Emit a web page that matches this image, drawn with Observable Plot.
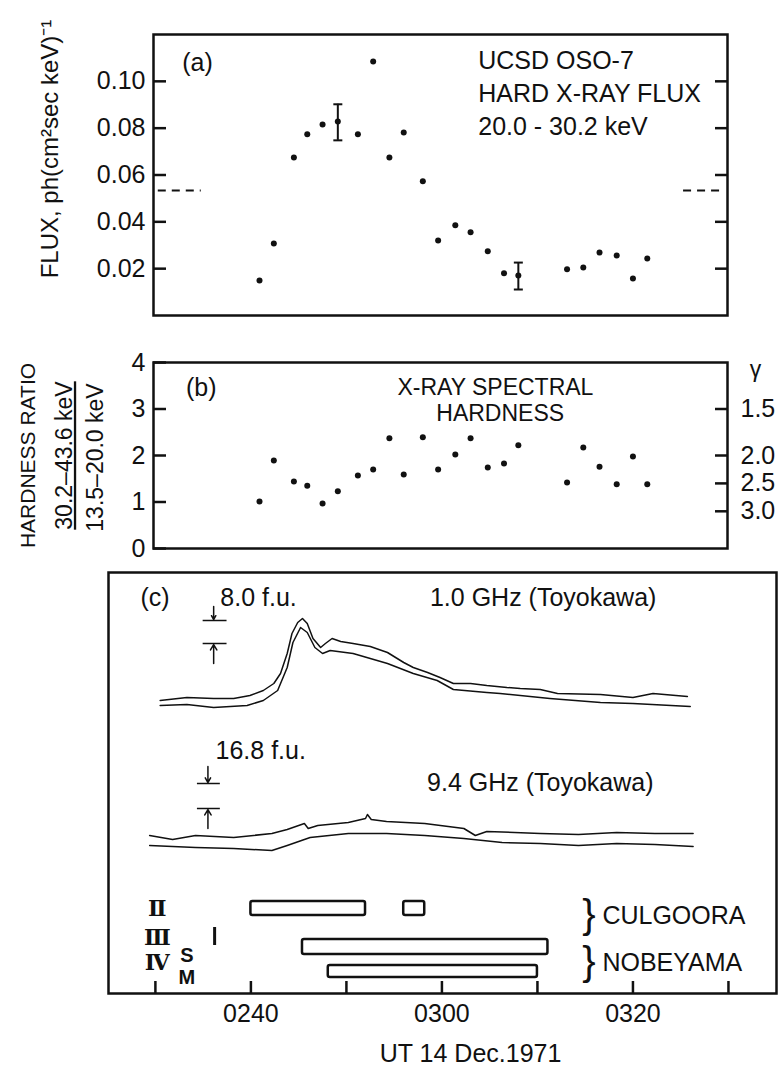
<!DOCTYPE html>
<html>
<head>
<meta charset="utf-8">
<script src="https://cdn.jsdelivr.net/npm/d3@7"></script>
<script src="https://cdn.jsdelivr.net/npm/@observablehq/plot@0.6"></script>
<style>
  html, body { margin: 0; padding: 0; background: #fff; }
  #fig { position: relative; width: 778px; height: 1068px; overflow: hidden; }
</style>
</head>
<body>
<div id="fig"></div>
<script>
// ---------- DATA (time in minutes after 00:00 UT, 14 Dec 1971) ----------
const times    = [160.9, 162.4, 164.5, 165.9, 167.5, 169.1, 171.2, 172.8, 174.5, 176.0, 178.0, 179.6, 181.4, 183.0, 184.8, 186.5, 188.0, 193.1, 194.8, 196.5, 198.3, 200.0, 201.5];
const flux     = [0.0150, 0.0308, 0.0675, 0.0774, 0.0816, 0.0829, 0.0774, 0.1085, 0.0675, 0.0782, 0.0573, 0.0320, 0.0385, 0.0355, 0.0274, 0.0180, 0.0171, 0.0197, 0.0205, 0.0269, 0.0256, 0.0158, 0.0243];
const hardness = [1.01, 1.89, 1.44, 1.35, 0.97, 1.23, 1.57, 1.70, 2.37, 1.59, 2.39, 1.70, 2.02, 2.37, 1.74, 1.83, 2.22, 1.42, 2.17, 1.76, 1.38, 1.98, 1.38];

const errTimes = [169.1, 188.0];
const errLow   = [0.0748, 0.0111];
const errHigh  = [0.0902, 0.0226];

const bgLevel  = 0.0534;
const bgStarts = [150.3, 205.3];
const bgEnds   = [154.8, 209.2];

const fluxTicks   = [0.02, 0.04, 0.06, 0.08, 0.10];
const hardTicks   = [0, 1, 2, 3, 4];
const gammaLabels = ["1.5", "2.0", "2.5", "3.0"];
const gammaPos    = [3.0, 2.0, 1.4, 0.8];

// radio traces (c): level in chart units
const g1UpT = [150.5,153.3,156.1,158.2,159.9,161.3,162.4,163.1,163.8,164.3,164.9,165.4,165.9,166.5,167.3,167.8,168.5,169.4,170.7,172.5,174.3,176.0,177.0,178.5,179.8,181.2,183.0,184.7,186.8,188.2,190.3,192.1,196.6,200.0,202.1,205.7];
const g1UpV = [29.3,29.6,29.5,29.5,29.8,30.3,31.0,32.0,34.0,36.0,37.1,37.5,37.0,35.5,34.6,35.0,35.5,35.2,35.0,34.7,34.1,33.1,32.6,32.1,31.6,31.0,31.0,30.8,30.6,30.5,30.4,30.0,29.9,29.6,30.0,29.7];
const g1LoT = [150.5,153.3,156.1,159.6,161.3,162.8,163.8,164.4,165.2,165.9,166.7,167.5,168.3,170.7,172.5,174.3,177.0,179.5,181.2,184.7,186.1,191.3,196.6,200.0,206.0];
const g1LoV = [28.8,28.9,28.6,28.8,29.3,30.3,32.6,35.1,36.6,36.1,34.6,34.0,34.3,34.0,33.5,33.0,32.0,31.3,30.4,30.1,30.0,29.5,29.1,29.0,28.7];
const g9UpT = [149.4,151.8,154.2,158.2,162.2,163.8,165.6,166.0,167.0,170.2,172.0,172.2,172.6,174.2,178.2,182.3,183.5,184.7,190.3,194.3,198.3,202.3,206.3];
const g9UpV = [15.8,15.4,15.8,15.6,16.0,16.4,17.0,16.5,16.8,17.1,17.5,17.9,17.4,17.2,17.0,16.5,15.8,16.2,16.0,15.9,16.1,16.0,16.0];
const g9LoT = [149.4,154.2,158.2,162.2,163.8,166.2,170.2,174.2,178.2,182.3,186.3,190.3,194.3,198.3,202.3,206.3];
const g9LoV = [14.8,14.6,14.5,14.3,14.8,15.6,16.0,16.0,15.8,15.5,15.1,15.0,14.8,15.0,14.9,14.7];

// burst-type bars
const barStart  = [160.0, 176.0, 165.4, 168.1];
const barEnd    = [172.0, 178.2, 191.1, 190.0];
const barTop    = [9.2, 9.2, 5.4, 2.8];
const barBottom = [7.8, 7.8, 3.9, 1.6];
const typeIIIAt = 156.2;

const romanLabels = ["Ⅱ", "Ⅲ", "Ⅳ"];
const romanLevels = [8.5, 5.6, 3.1];
const stations    = ["CULGOORA", "NOBEYAMA"];
const stationLev  = [7.8, 3.1];

const axisTicks   = [150, 160, 170, 180, 190, 200, 210];
const labelTicks  = [160, 180, 200];
const tickLabels  = ["0240", "0300", "0320"];

const abDomain = [149.8, 209.9];
const cDomain  = [145.09, 215.03];

// ---------- helpers ----------
const FONT = "'Liberation Sans', Arial, Helvetica, sans-serif";
const INK = "#111";
const style = {fontFamily: FONT, fontSize: "25px", color: INK, background: "transparent", overflow: "visible"};
const fig = document.getElementById("fig");
function place(svg, top) {
  svg.style.position = "absolute";
  svg.style.left = "0px";
  svg.style.top = top + "px";
  fig.appendChild(svg);
}
const capSymbol = {draw(ctx) { ctx.moveTo(-4.5, 0); ctx.lineTo(4.5, 0); }};

const ptsA = times.map((t, i) => ({t, v: flux[i]}));
const ptsB = times.map((t, i) => ({t, v: hardness[i]}));
const errs = errTimes.map((t, i) => ({t, lo: errLow[i], hi: errHigh[i]}));
const caps = errs.flatMap(d => [{t: d.t, v: d.lo}, {t: d.t, v: d.hi}]);
const bg = bgStarts.map((s, i) => ({t1: s, t2: bgEnds[i], v: bgLevel}));

// ---------- panel (a) ----------
const plotA = Plot.plot({
  width: 778, height: 330,
  marginTop: 34, marginBottom: 15, marginLeft: 153, marginRight: 51,
  x: {domain: abDomain, axis: null},
  y: {domain: [0, 0.12], axis: null},
  style,
  marks: [
    Plot.frame({stroke: INK, strokeWidth: 2.5}),
    Plot.axisY(fluxTicks, {anchor: "left", tickSize: -13, tickPadding: 21, strokeWidth: 2.5, tickFormat: d3.format(".2f"), label: null, fontSize: 25}),
    Plot.axisY(fluxTicks, {anchor: "right", tickSize: -13, strokeWidth: 2.5, tickFormat: () => "", label: null}),
    Plot.ruleY(bg, {x1: "t1", x2: "t2", y: "v", stroke: INK, strokeWidth: 2, strokeDasharray: "8,6"}),
    Plot.ruleX(errs, {x: "t", y1: "lo", y2: "hi", stroke: INK, strokeWidth: 2}),
    Plot.dot(caps, {x: "t", y: "v", symbol: capSymbol, stroke: INK, strokeWidth: 2, fill: "none"}),
    Plot.dot(ptsA, {x: "t", y: "v", r: 3, fill: INK, stroke: "none"}),
    Plot.text(["(a)"], {x: 154.4, y: 0.108, fontSize: 25}),
    Plot.text(["UCSD OSO-7", "HARD X-RAY FLUX", "20.0 - 30.2 keV"], {x: 183.8, y: [0.1085, 0.0944, 0.0807], textAnchor: "start", fontSize: 25}),
    Plot.text(["FLUX, ph(cm²sec keV)⁻¹"], {frameAnchor: "left", textAnchor: "middle", lineAnchor: "middle", rotate: -90, dx: -103, dy: -26, fontSize: 24})
  ]
});
place(plotA, 0);

// ---------- panel (b) ----------
const numLabel = "30.2–43.6 keV";
const plotB = Plot.plot({
  width: 778, height: 230,
  marginTop: 32, marginBottom: 12, marginLeft: 153, marginRight: 51,
  x: {domain: abDomain, axis: null},
  y: {domain: [0, 4], axis: null},
  style,
  marks: [
    Plot.frame({stroke: INK, strokeWidth: 2.5}),
    Plot.axisY(hardTicks, {anchor: "left", tickSize: -13, tickPadding: 21, strokeWidth: 2.5, tickFormat: d3.format("d"), label: null, fontSize: 25}),
    Plot.axisY(gammaPos, {anchor: "right", tickSize: -13, tickPadding: 26, strokeWidth: 2.5, tickFormat: d => gammaLabels[gammaPos.indexOf(d)], label: null, fontSize: 25}),
    Plot.text(["γ"], {frameAnchor: "top-right", textAnchor: "middle", lineAnchor: "middle", dx: 28, dy: 7, fontSize: 23}),
    Plot.dot(ptsB, {x: "t", y: "v", r: 3, fill: INK, stroke: "none"}),
    Plot.text(["(b)"], {x: 154.8, y: 3.46, fontSize: 25}),
    Plot.text(["X-RAY SPECTRAL", "HARDNESS"], {x: [185.6, 186.1], y: [3.47, 2.91], fontSize: 23}),
    Plot.text(["HARDNESS RATIO"], {frameAnchor: "left", textAnchor: "middle", lineAnchor: "middle", rotate: -90, dx: -125, dy: 0, fontSize: 21}),
    Plot.text([numLabel], {frameAnchor: "left", textAnchor: "middle", lineAnchor: "middle", rotate: -90, dx: -89, dy: 0, fontSize: 23}),
    Plot.text(["13.5–20.0 keV"], {frameAnchor: "left", textAnchor: "middle", lineAnchor: "middle", rotate: -90, dx: -58, dy: 2, fontSize: 23})
  ]
});
d3.select(plotB).selectAll("text").filter(function() { return this.textContent === numLabel; }).style("text-decoration", "underline");
place(plotB, 330);

// ---------- panel (c) ----------
const line = (T, V) => T.map((t, i) => ({t, v: V[i]}));
const bars = barStart.map((s, i) => ({t1: s, t2: barEnd[i], y1: barBottom[i], y2: barTop[i]}));
const hbars = [
  {t1: 155.0, t2: 157.5, v: 37.3}, {t1: 155.0, t2: 157.5, v: 35.0},
  {t1: 154.4, t2: 156.8, v: 21.0}, {t1: 154.4, t2: 156.8, v: 18.5}
];
const arrows = [
  {t: 156.1, a: 38.7, b: 37.4}, {t: 156.1, a: 33.0, b: 34.9},
  {t: 155.5, a: 22.7, b: 21.1}, {t: 155.5, a: 16.5, b: 18.4}
];

const plotC = Plot.plot({
  width: 778, height: 508,
  marginTop: 12, marginBottom: 75, marginLeft: 108, marginRight: 2,
  x: {domain: cDomain, axis: null},
  y: {domain: [0, 42.1], axis: null},
  style,
  marks: [
    Plot.frame({stroke: INK, strokeWidth: 2.5}),
    Plot.axisX(axisTicks, {anchor: "bottom", tickSize: -12, strokeWidth: 2.5, tickFormat: () => "", label: null}),
    Plot.axisX(labelTicks, {anchor: "bottom", tickSize: 0, tickPadding: 11, tickFormat: d => tickLabels[labelTicks.indexOf(d)], label: null, fontSize: 25}),
    Plot.text(["UT 14 Dec.1971"], {x: 183.0, frameAnchor: "bottom", lineAnchor: "middle", dy: 60, fontSize: 25}),
    Plot.line(line(g1UpT, g1UpV), {x: "t", y: "v", stroke: INK, strokeWidth: 1.5}),
    Plot.line(line(g1LoT, g1LoV), {x: "t", y: "v", stroke: INK, strokeWidth: 1.5}),
    Plot.line(line(g9UpT, g9UpV), {x: "t", y: "v", stroke: INK, strokeWidth: 1.5}),
    Plot.line(line(g9LoT, g9LoV), {x: "t", y: "v", stroke: INK, strokeWidth: 1.5}),
    Plot.ruleY(hbars, {x1: "t1", x2: "t2", y: "v", stroke: INK, strokeWidth: 1.5}),
    Plot.arrow(arrows, {x1: "t", x2: "t", y1: "a", y2: "b", stroke: INK, strokeWidth: 1.5, headLength: 7}),
    Plot.text(["(c)"], {x: 149.96, y: 39.6, fontSize: 25}),
    Plot.text(["8.0 f.u.", "16.8 f.u."], {x: [156.8, 156.3], y: [39.6, 24.3], textAnchor: "start", fontSize: 25}),
    Plot.text(["1.0 GHz (Toyokawa)", "9.4 GHz (Toyokawa)"], {x: [190.6, 190.3], y: [39.6, 21.1], fontSize: 25}),
    Plot.rect(bars, {x1: "t1", x2: "t2", y1: "y1", y2: "y2", fill: "white", stroke: INK, strokeWidth: 2.5, rx: 2}),
    Plot.ruleX([typeIIIAt], {y1: 4.8, y2: 6.6, stroke: INK, strokeWidth: 3}),
    Plot.text(romanLabels, {x: 150.2, y: romanLevels, fontFamily: "'DejaVu Serif', 'Liberation Serif', serif", fontWeight: "bold", fontSize: 22}),
    Plot.text(["S", "M"], {x: 153.3, y: [3.8, 1.6], fontSize: 20, fontWeight: "bold"}),
    Plot.text(["}", "}"], {x: 195.4, y: stationLev, fontSize: 40}),
    Plot.text(stations, {x: 196.8, y: stationLev, textAnchor: "start", fontSize: 25})
  ]
});
place(plotC, 560);
</script>
</body>
</html>
